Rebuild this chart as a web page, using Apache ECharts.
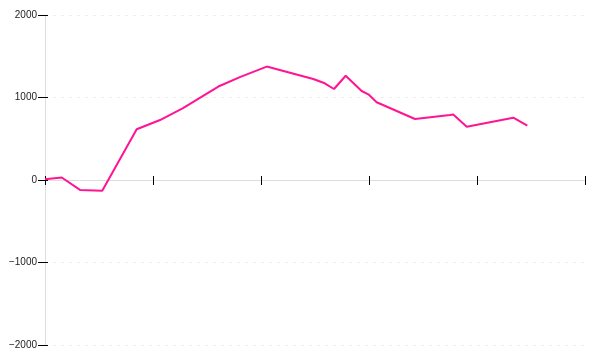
<!DOCTYPE html>
<html>
<head>
<meta charset="utf-8">
<script src="https://cdn.jsdelivr.net/npm/echarts@6/dist/echarts.min.js"></script>
<style>html,body{margin:0;padding:0;background:#fff}#c{width:600px;height:360px}</style>
</head>
<body>
<div id="c"></div>
<script>
var xValues = [0, 1.55, 3.24, 5.3, 8.49, 10.65, 12.78, 16.05, 18.1, 20.53, 24.84, 25.9, 26.76, 27.84, 29.32, 29.94, 30.71, 34.26, 37.5, 37.8, 39.05, 43.36, 44.66];
var yValues = [10, 30, -120, -130, 615, 727, 870, 1133, 1250, 1375, 1224, 1172, 1103, 1264, 1079, 1039, 942, 739, 788, 795, 646, 755, 658];
var yTicks = [-2000, -1000, 0, 1000, 2000];

var data = xValues.map(function (x, i) { return [x, yValues[i]]; });
var chart = echarts.init(document.getElementById('c'), null, {renderer: 'canvas'});
var axisLineStyle = {color: '#ddd', width: 1};
chart.setOption({
  animation: false,
  grid: {left: 45, right: 15, top: 15, bottom: 15},
  xAxis: [{
    type: 'value', min: 0, max: 50, interval: 10, position: 'bottom',
    axisLine: {show: true, onZero: true, lineStyle: axisLineStyle},
    axisTick: {show: true, length: 5, lineStyle: {color: '#000'}},
    axisLabel: {show: false},
    splitLine: {show: false}
  }, {
    type: 'value', min: 0, max: 50, interval: 10, position: 'top',
    axisLine: {show: true, onZero: true, lineStyle: axisLineStyle},
    axisTick: {show: true, length: 4, lineStyle: {color: '#000'}},
    axisLabel: {show: false},
    splitLine: {show: false}
  }],
  yAxis: [{
    type: 'value', min: yTicks[0], max: yTicks[yTicks.length - 1], interval: 1000, position: 'left',
    axisLine: {show: true, onZero: false, lineStyle: axisLineStyle},
    axisTick: {show: true, length: 7, lineStyle: {color: '#000'}},
    axisLabel: {
      show: true, margin: 8, color: '#222', fontSize: 10, fontFamily: 'Liberation Sans',
      formatter: function (v) { return v < 0 ? '\u2212' + Math.abs(v) : String(v); }
    },
    splitLine: {show: true, lineStyle: {color: '#eee', type: [3, 5]}}
  }, {
    type: 'value', min: yTicks[0], max: yTicks[yTicks.length - 1], interval: 1000, position: 'right',
    axisLine: {show: false, onZero: true},
    axisTick: {show: true, length: 3, lineStyle: {color: '#000'}},
    axisLabel: {show: false},
    splitLine: {show: false}
  }],
  series: [{
    type: 'line', xAxisIndex: 0, yAxisIndex: 0, data: data,
    showSymbol: false, symbol: 'none',
    lineStyle: {color: '#ff1493', width: 2},
    itemStyle: {color: '#ff1493'}
  }]
});
</script>
</body>
</html>
